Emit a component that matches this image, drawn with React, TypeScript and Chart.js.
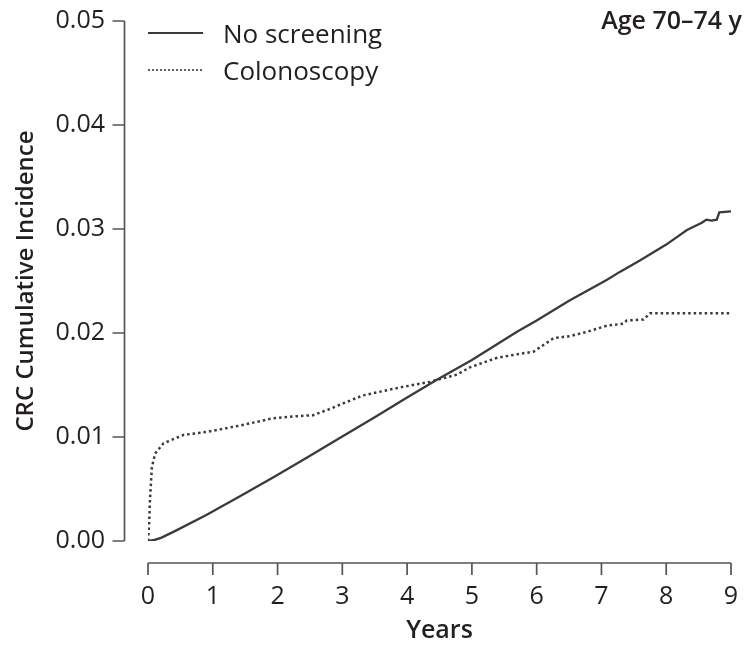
import React, { useEffect, useRef } from "react";
import { Chart, registerables } from "chart.js";

Chart.register(...registerables);

// ---- Data ----
const xTickValues = [0, 1, 2, 3, 4, 5, 6, 7, 8, 9];
const yTickValues = [0, 0.01, 0.02, 0.03, 0.04, 0.05];

const seriesNames = ["No screening", "Colonoscopy"];
const panelLabel = "Age 70–74 y";
const xTitle = "Years";
const yTitle = "CRC Cumulative Incidence";

const noScreeningYears = [0, 0.1, 0.2, 0.4, 0.9, 1.42, 1.93, 2.45, 2.96, 3.5, 4.0, 4.46, 5.0, 5.69, 6.0, 6.5, 7.08, 7.29, 7.6, 8.0, 8.32, 8.55, 8.62, 8.7, 8.78, 8.82, 9.0];
const noScreeningValues = [0, 0.0001, 0.0003, 0.0009, 0.0025, 0.0043, 0.0061, 0.008, 0.0099, 0.0119, 0.0138, 0.0155, 0.0174, 0.0201, 0.0212, 0.0231, 0.0251, 0.0259, 0.027, 0.0285, 0.0299, 0.0306, 0.0309, 0.0308, 0.0309, 0.0316, 0.0317];

const colonoscopyYears = [0, 0.02, 0.03, 0.06, 0.11, 0.24, 0.55, 0.91, 1.42, 1.93, 2.3, 2.55, 2.81, 2.96, 3.32, 3.84, 4.35, 4.77, 4.97, 5.38, 5.74, 5.95, 6.26, 6.51, 6.77, 7.08, 7.34, 7.39, 7.65, 7.75, 9.0];
const colonoscopyValues = [0, 0.002, 0.0039, 0.0071, 0.0084, 0.0094, 0.0102, 0.0105, 0.0111, 0.0118, 0.012, 0.0121, 0.0127, 0.0131, 0.014, 0.0147, 0.0153, 0.016, 0.0167, 0.0176, 0.018, 0.0182, 0.0195, 0.0197, 0.0201, 0.0207, 0.0209, 0.0212, 0.0213, 0.0219, 0.0219];

const TEXT = "#231f20";
const LINE = "#3a3a3a";
const AXIS = "#555555";
const FONT = "'Open Sans', 'Noto Sans', sans-serif";

const toPoints = (xs: number[], ys: number[]) => xs.map((x, i) => ({ x, y: ys[i] }));

const resetPadding = (s: any) => {
  s.paddingTop = 0;
  s.paddingBottom = 0;
  s.paddingLeft = 0;
  s.paddingRight = 0;
};

const detachedAxes = {
  id: "detachedAxes",
  afterDraw(chart: any) {
    const { ctx, scales } = chart;
    const xs = scales.x;
    const ys = scales.y;
    ctx.save();
    ctx.strokeStyle = AXIS;
    ctx.lineWidth = 1.7;
    // Y axis (detached, left of plot)
    const yAxisX = xs.left - 23.5;
    ctx.beginPath();
    ctx.moveTo(yAxisX, ys.getPixelForValue(yTickValues[yTickValues.length - 1]));
    ctx.lineTo(yAxisX, ys.getPixelForValue(yTickValues[0]));
    yTickValues.forEach((v) => {
      const py = ys.getPixelForValue(v);
      ctx.moveTo(yAxisX - 12, py);
      ctx.lineTo(yAxisX, py);
    });
    ctx.stroke();
    // X axis (detached, below plot)
    const xAxisY = ys.bottom + 22;
    ctx.beginPath();
    ctx.moveTo(xs.getPixelForValue(xTickValues[0]), xAxisY);
    ctx.lineTo(xs.getPixelForValue(xTickValues[xTickValues.length - 1]), xAxisY);
    xTickValues.forEach((v) => {
      const px = xs.getPixelForValue(v);
      ctx.moveTo(px, xAxisY);
      ctx.lineTo(px, xAxisY + 12);
    });
    ctx.stroke();

    // Legend
    const lx0 = xs.left;
    const lx1 = xs.left + 55;
    const rows = [33, 70];
    chart.data.datasets.forEach((ds: any, i: number) => {
      ctx.beginPath();
      ctx.strokeStyle = ds.borderColor;
      ctx.lineWidth = ds.borderDash ? 1.6 : 1.8;
      ctx.setLineDash(ds.borderDash ? [2, 2] : []);
      ctx.moveTo(lx0, rows[i]);
      ctx.lineTo(lx1, rows[i]);
      ctx.stroke();
      ctx.setLineDash([]);
      ctx.fillStyle = TEXT;
      ctx.font = `500 26px ${FONT}`;
      ctx.textAlign = "left";
      ctx.textBaseline = "alphabetic";
      ctx.fillText(ds.label, lx1 + 20, rows[i] + 9.5);
    });

    // Panel label
    ctx.fillStyle = TEXT;
    ctx.font = `600 25px ${FONT}`;
    ctx.textAlign = "right";
    ctx.textBaseline = "alphabetic";
    ctx.fillText(panelLabel, 742, 29);
    ctx.restore();
  },
};

export default function App() {
  const canvasRef = useRef<HTMLCanvasElement | null>(null);

  useEffect(() => {
    document.body.style.margin = "0";
    const canvas = canvasRef.current;
    if (!canvas) return;
    const chart = new Chart(canvas, {
      type: "line",
      data: {
        datasets: [
          {
            label: seriesNames[0],
            data: toPoints(noScreeningYears, noScreeningValues),
            borderColor: LINE,
            borderWidth: 2.3,
            pointRadius: 0,
            tension: 0,
            fill: false,
          },
          {
            label: seriesNames[1],
            data: toPoints(colonoscopyYears, colonoscopyValues),
            borderColor: LINE,
            borderWidth: 2.5,
            borderDash: [2.5, 3],
            pointRadius: 0,
            tension: 0,
            fill: false,
          },
        ],
      },
      options: {
        responsive: false,
        animation: false,
        devicePixelRatio: 1,
        layout: { padding: { top: 21, right: 15, left: 0, bottom: 0 } },
        plugins: {
          legend: { display: false },
          tooltip: { enabled: false },
          title: { display: false },
        },
        scales: {
          x: {
            type: "linear",
            min: xTickValues[0],
            max: xTickValues[xTickValues.length - 1],
            grid: { display: false, drawTicks: false },
            border: { display: false },
            afterBuildTicks: (s: any) => {
              s.ticks = xTickValues.map((v) => ({ value: v }));
            },
            ticks: {
              color: TEXT,
              font: { family: FONT, size: 25 },
              padding: 41,
              maxRotation: 0,
              callback: (v: any) => String(v),
            },
            title: {
              display: true,
              text: xTitle,
              color: TEXT,
              font: { family: FONT, size: 25, weight: "600" },
              padding: { top: 0, bottom: 0 },
            },
            afterFit: (s: any) => {
              s.height = 105;
              resetPadding(s);
            },
          },
          y: {
            type: "linear",
            min: yTickValues[0],
            max: yTickValues[yTickValues.length - 1],
            grid: { display: false, drawTicks: false },
            border: { display: false },
            afterBuildTicks: (s: any) => {
              s.ticks = yTickValues.map((v) => ({ value: v }));
            },
            ticks: {
              color: TEXT,
              font: { family: FONT, size: 25 },
              padding: 43,
              callback: (v: any) => Number(v).toFixed(2),
            },
            title: {
              display: true,
              text: yTitle,
              color: TEXT,
              font: { family: FONT, size: 24, weight: "600" },
              padding: { top: 12, bottom: 0 },
            },
            afterFit: (s: any) => {
              s.width = 148;
              resetPadding(s);
            },
          },
        },
      } as any,
      plugins: [detachedAxes],
    });
    return () => chart.destroy();
  }, []);

  return (
    <div style={{ width: 746, height: 646, background: "#fff" }}>
      <canvas ref={canvasRef} width={746} height={646} style={{ display: "block" }} />
    </div>
  );
}
